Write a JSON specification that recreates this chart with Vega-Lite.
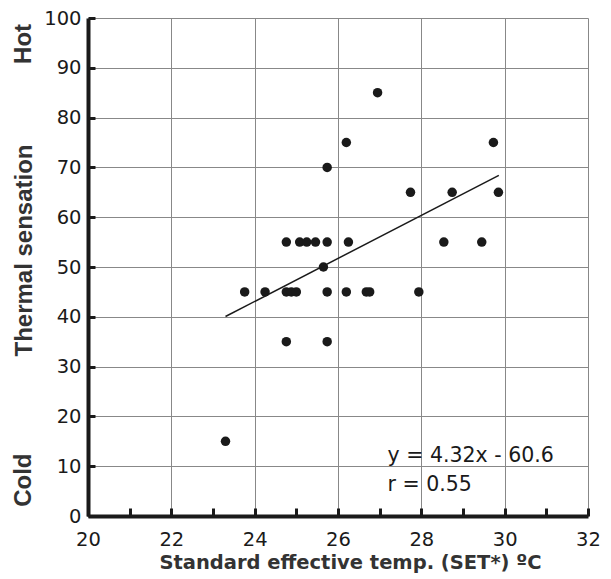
{
  "$schema": "https://vega.github.io/schema/vega-lite/v6.json",
  "width": 500,
  "height": 498,
  "autosize": {"type": "none"},
  "padding": {"left": 88, "top": 18, "right": 23, "bottom": 63},
  "background": "white",
  "config": {"view": {"stroke": null}},
  "encoding": {
    "x": {
      "field": "x", "type": "quantitative",
      "scale": {"domain": [20, 32], "nice": false, "zero": false},
      "axis": {
        "values": [20, 21, 22, 23, 24, 25, 26, 27, 28, 29, 30, 31, 32],
        "labelExpr": "datum.value % 2 === 0 ? datum.label : ''",
        "labelOverlap": false, "labelFlush": false,
        "labelFont": "DejaVu Sans", "labelFontSize": 19.5, "labelColor": "#1a1a1a",
        "labelPadding": 22, "tickSize": -8, "tickWidth": 3, "tickColor": "#1a1a1a",
        "domainColor": "#1a1a1a", "domainWidth": 4,
        "grid": true, "gridColor": "#888888", "gridWidth": 1,
        "gridOpacity": {"condition": {"test": "datum.value % 2 === 0", "value": 1}, "value": 0},
        "title": "Standard effective temp. (SET*) ºC",
        "titleFont": "DejaVu Sans", "titleFontSize": 19.5, "titleFontWeight": "bold", "titleColor": "#333333",
        "titleX": 262, "titleY": 52, "titleAlign": "center", "titleBaseline": "alphabetic"
      }
    },
    "y": {
      "field": "y", "type": "quantitative",
      "scale": {"domain": [0, 100], "nice": false},
      "axis": {
        "values": [0, 10, 20, 30, 40, 50, 60, 70, 80, 90, 100],
        "labelOverlap": false, "labelFlush": false,
        "labelFont": "DejaVu Sans", "labelFontSize": 19.5, "labelColor": "#1a1a1a",
        "labelPadding": 14, "tickSize": -7, "tickWidth": 3, "tickColor": "#1a1a1a",
        "domainColor": "#1a1a1a", "domainWidth": 4,
        "grid": true, "gridColor": "#888888", "gridWidth": 1,
        "title": "Thermal sensation",
        "titleFont": "Liberation Sans", "titleFontSize": 24, "titleFontWeight": "bold", "titleColor": "#333333",
        "titleX": -64, "titleY": 232, "titleAlign": "center", "titleBaseline": "middle", "titleAngle": 270
      }
    }
  },
  "layer": [
    {
      "data": {"values": [
        {"x": 23.3, "y": 15},
        {"x": 23.76, "y": 45}, {"x": 24.25, "y": 45}, {"x": 24.76, "y": 45}, {"x": 24.88, "y": 45}, {"x": 25.0, "y": 45},
        {"x": 25.74, "y": 45}, {"x": 26.2, "y": 45}, {"x": 26.68, "y": 45}, {"x": 26.76, "y": 45}, {"x": 27.94, "y": 45},
        {"x": 24.76, "y": 55}, {"x": 25.08, "y": 55}, {"x": 25.25, "y": 55}, {"x": 25.46, "y": 55}, {"x": 25.74, "y": 55},
        {"x": 26.25, "y": 55}, {"x": 28.54, "y": 55}, {"x": 29.45, "y": 55},
        {"x": 25.65, "y": 50},
        {"x": 24.76, "y": 35}, {"x": 25.74, "y": 35},
        {"x": 25.74, "y": 70},
        {"x": 26.2, "y": 75}, {"x": 29.73, "y": 75},
        {"x": 26.95, "y": 85},
        {"x": 27.74, "y": 65}, {"x": 28.74, "y": 65}, {"x": 29.85, "y": 65}
      ]},
      "mark": {"type": "circle", "size": 90, "color": "#1a1a1a", "opacity": 1}
    },
    {
      "data": {"values": [{"x": 23.3, "y": 40.06}, {"x": 29.86, "y": 68.4}]},
      "mark": {"type": "line", "color": "#1a1a1a", "strokeWidth": 1.5}
    },
    {
      "data": {"values": [{"x": 18.46, "y": 94.8, "label": "Hot"}, {"x": 18.46, "y": 7.2, "label": "Cold"}]},
      "mark": {"type": "text", "angle": 270, "align": "center", "baseline": "middle", "font": "Liberation Sans", "fontSize": 24, "fontWeight": "bold", "color": "#333333"},
      "encoding": {"text": {"field": "label"}}
    },
    {
      "data": {"values": [{"x": 27.19, "y": 10.84, "label": "y = 4.32x - 60.6"}, {"x": 27.19, "y": 5.02, "label": "r = 0.55"}]},
      "mark": {"type": "text", "align": "left", "baseline": "alphabetic", "font": "DejaVu Sans", "fontSize": 20.5, "color": "#1a1a1a"},
      "encoding": {"text": {"field": "label"}}
    }
  ]
}
